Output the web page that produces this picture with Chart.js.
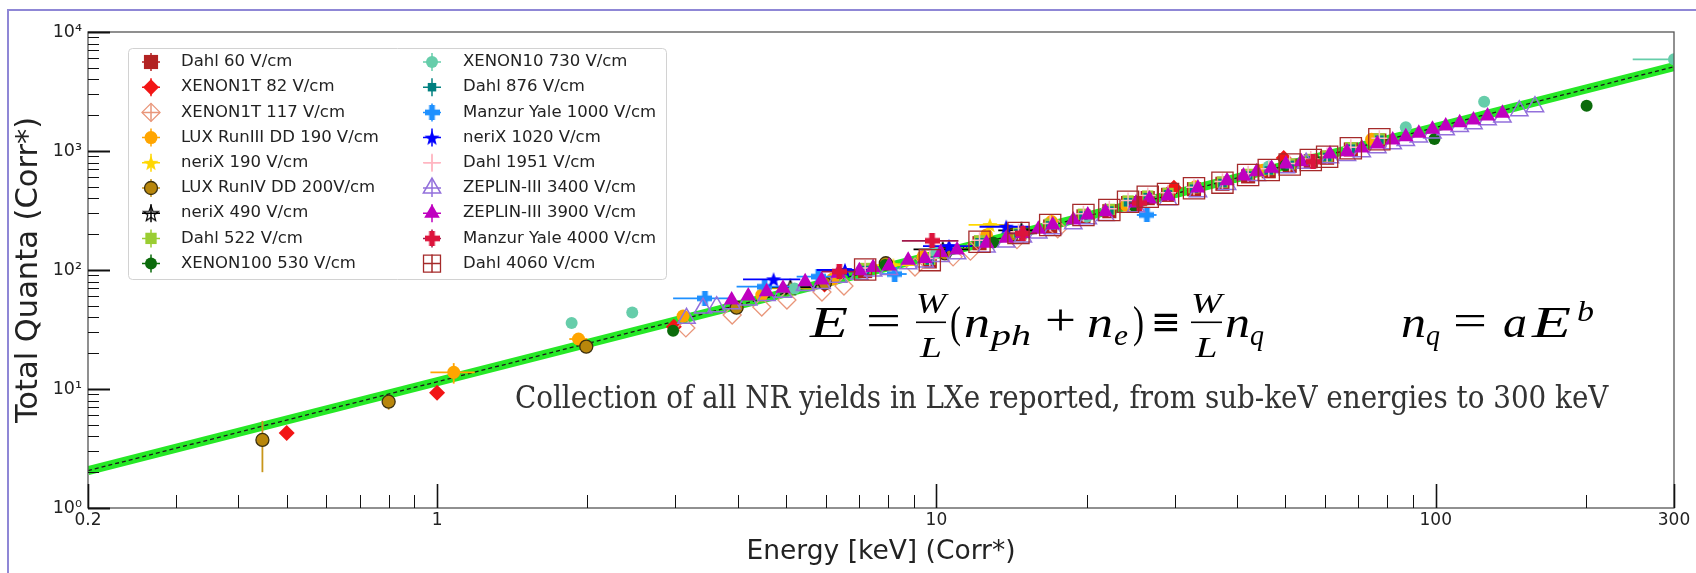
<!DOCTYPE html>
<html>
<head>
<meta charset="utf-8">
<title>NR total quanta vs energy</title>
<script src="https://cdn.jsdelivr.net/npm/chart.js@4.4.1/dist/chart.umd.min.js"></script>
<style>
  html, body { margin: 0; padding: 0; background: #fff; }
  #wrap { width: 1696px; height: 573px; }
</style>
</head>
<body>
<div id="wrap"><canvas id="nrChart" width="1696" height="573"></canvas></div>
<script>
// ---- axis ticks ----
const xTickVals = [0.2, 0.3, 0.4, 0.5, 0.6, 0.7, 0.8, 0.9, 1, 2, 3, 4, 5, 6, 7, 8, 9, 10,
  20, 30, 40, 50, 60, 70, 80, 90, 100, 200, 300];
const xLabelVals = [0.2, 1, 10, 100, 300];
const xTickLabels = ['0.2', '1', '10', '100', '300'];
const yTickVals = [1, 2, 3, 4, 5, 6, 7, 8, 9, 10, 20, 30, 40, 50, 60, 70, 80, 90,
  100, 200, 300, 400, 500, 600, 700, 800, 900, 1000, 2000, 3000, 4000, 5000, 6000,
  7000, 8000, 9000, 10000];
const yLabelVals = [1, 10, 100, 1000, 10000];
const yTickLabels = ['10\u2070', '10\u00b9', '10\u00b2', '10\u00b3', '10\u2074'];

// ---- power-law fit band (n_q = a E^b) ----
const fitE = [0.2, 300];
const fitQ = [2.06, 5110];

// ---- data, energy [keV] and total quanta ----
const dahlE = [7.2, 9.7, 12.2, 14.6, 16.9, 19.7, 22.2, 24.2, 26.5, 29.1, 32.8, 37.4, 42.1, 46.3, 51.0, 56.2, 60.6, 67.6, 77.1];
const dahl60Q = [98, 118, 168, 200, 232, 282, 312, 365, 402, 428, 478, 530, 612, 676, 752, 822, 878, 1030, 1225];
const dahl522Q = [103, 123, 176, 208, 243, 294, 323, 380, 418, 440, 492, 548, 636, 700, 778, 850, 906, 1065, 1265];
const dahl876Q = [100, 120, 171, 203, 237, 287, 316, 371, 409, 432, 482, 538, 622, 686, 764, 834, 890, 1046, 1244];
const dahl1951Q = [104, 125, 178, 210, 246, 297, 327, 384, 422, 446, 497, 555, 643, 708, 786, 858, 916, 1075, 1278];
const dahl4060Q = [101, 121, 173, 205, 239, 290, 319, 375, 413, 435, 486, 542, 629, 692, 770, 840, 896, 1054, 1254];

const xe1t82E = [0.50, 1.0, 2.98, 5.97, 29.9, 49.6];
const xe1t82Q = [4.27, 9.3, 33.4, 75.6, 492, 873];

const xe1t117E = [3.15, 3.90, 4.47, 5.02, 5.90, 6.53, 9.06, 10.8, 11.7, 14.5, 17.5];
const xe1t117Q = [32.6, 41.9, 48.9, 56, 65.3, 73.4, 106, 129, 144, 180, 222];

const lux3E = [1.08, 1.92, 3.11, 4.47, 6.2, 9.4, 12.6, 17, 24, 33, 45, 74.4];
const lux3Q = [13.8, 26.3, 41, 61.6, 84, 129, 197, 255, 350, 500, 690, 1254];
const lux3XErr = [0.11, 0.08, 0, 0, 0, 0, 0, 0, 0, 0, 0, 0];
const lux3YErr = [2.7, 1.5, 0, 0, 0, 0, 0, 0, 0, 0, 0, 0];

const nerix190E = [5.1, 8.2, 12.8];
const nerix190Q = [70, 110, 239];
const nerix190XErr = [0.6, 1.0, 1.2];

const lux4E = [0.447, 0.80, 1.99, 3.98, 5.98, 7.92, 10.4, 14.2];
const lux4Q = [3.73, 7.82, 22.7, 48.2, 77.3, 114, 138, 198];
const lux4YErr = [[2.0, 5.4], [6.7, 8.9], 0, 0, 0, 0, 0, 0];

const nerix490E = [5.1, 10.3, 14.8];
const nerix490Q = [71.6, 149, 215];
const nerix490XErr = [0.65, 1.3, 1.5];

const xe100E = [2.97, 7.9, 13, 25, 50, 99.4, 200.5];
const xe100Q = [30.9, 110, 170, 340, 760, 1261, 2403];

const xe10E = [1.86, 2.46, 5.2, 10, 20, 46.3, 87.1, 125, 300];
const xe10Q = [35.9, 43.9, 70, 140, 280, 740, 1582, 2596, 5893];
const xe10XErr = [0, 0, 0, 0, 0, 0, 0, 0, 52];

const manzur1000E = [3.44, 4.53, 5.8, 8.25, 26.4];
const manzur1000Q = [57.8, 72.4, 87.9, 92.5, 290];
const manzur1000XErr = [0.47, 0.55, 0.55, 0.47, 1.2];

const nerix1020E = [4.72, 6.56, 10.6, 13.8];
const nerix1020Q = [83.5, 100, 159, 231];
const nerix1020XErr = [0.62, 0.8, 1.2, 1.6];

const zep3400E = [3.16, 3.41, 3.63, 3.89, 4.20, 4.57, 4.93, 5.46, 5.89, 6.36, 7.01, 7.47, 8.04, 8.78,
  9.48, 10.2, 11.0, 12.6, 13.8, 14.9, 16.0, 17.1, 18.8, 20.1, 21.8, 25.1, 29.1, 33.4, 38.2, 43.8,
  50.1, 55, 61.4, 66.4, 71.1, 76.4, 82.0, 87.1, 92.5, 98.5, 104.7, 111.7, 119, 127, 136, 147, 158];
const zep3400Q = [39.3, 47.9, 49.2, 52, 56, 61, 65, 74, 77, 87, 92, 98, 101, 113,
  117, 130, 137, 156, 172, 189, 205, 222, 245, 270, 287, 340, 390, 455, 524, 623,
  724, 790, 878, 917, 985, 1065, 1150, 1227, 1309, 1415, 1508, 1609, 1695, 1830, 1929, 2182, 2359];

const zep3900E = [3.89, 4.20, 4.57, 4.93, 5.46, 5.89, 6.36, 7.01, 7.47, 8.04, 8.78, 9.48, 10.2, 11.0,
  12.6, 13.8, 14.9, 16.0, 17.1, 18.8, 20.1, 21.8, 25.1, 26.7, 29.1, 33.4, 38.2, 41.2, 43.8, 46.9,
  50.1, 53.8, 61.4, 66.4, 71.1, 76.4, 82.0, 87.1, 92.5, 98.5, 104.7, 111.7, 119, 127, 136];
const zep3900Q = [56, 60.5, 65.7, 70.2, 79.8, 82.4, 93.8, 98.7, 105, 108, 121, 125, 140, 147,
  168, 185, 203, 220, 239, 263, 290, 309, 366, 395, 419, 489, 563, 617, 670, 716,
  778, 813, 944, 986, 1059, 1145, 1237, 1319, 1408, 1522, 1622, 1730, 1822, 1968, 2074];

const manzur4000E = [6.39, 9.8, 14.9, 25.5, 56.8];
const manzur4000Q = [96.8, 176, 203, 365, 813];
const manzur4000XErr = [0.5, 1.27, 1.0, 1.2, 2.0];

// ---- custom marker images (filled star, open star, filled plus) ----
function makeStar(size, fill, stroke) {
  const c = document.createElement('canvas');
  c.width = size; c.height = size;
  const g = c.getContext('2d');
  const cx = size / 2, cy = size / 2 + 0.8, R = size / 2 - 1, r = R * 0.42;
  g.beginPath();
  for (let i = 0; i < 10; i++) {
    const a = -Math.PI / 2 + i * Math.PI / 5;
    const rr = i % 2 === 0 ? R : r;
    g.lineTo(cx + rr * Math.cos(a), cy + rr * Math.sin(a));
  }
  g.closePath();
  if (fill) { g.fillStyle = fill; g.fill(); }
  if (stroke) { g.strokeStyle = stroke; g.lineWidth = 1.2; g.stroke(); }
  return c;
}
function makePlus(size, fill) {
  const c = document.createElement('canvas');
  c.width = size; c.height = size;
  const g = c.getContext('2d');
  const t = size * 0.38, o = (size - t) / 2;
  g.fillStyle = fill;
  g.fillRect(o, 0, t, size);
  g.fillRect(0, o, size, t);
  return c;
}

const seriesDefs = [
  { label: 'Dahl 60 V/cm', e: dahlE, q: dahl60Q, style: 'rect', r: 10, fill: '#b22222' },
  { label: 'XENON1T 82 V/cm', e: xe1t82E, q: xe1t82Q, style: 'rectRot', r: 8, fill: '#f21515' },
  { label: 'XENON1T 117 V/cm', e: xe1t117E, q: xe1t117Q, style: 'rectRot', r: 9, fill: 'rgba(0,0,0,0)', edge: '#e9967a', bw: 1.3 },
  { label: 'LUX RunIII DD 190 V/cm', e: lux3E, q: lux3Q, style: 'circle', r: 6.5, fill: '#ffa500', errX: lux3XErr, errY: lux3YErr },
  { label: 'neriX 190 V/cm', e: nerix190E, q: nerix190Q, style: makeStar(18, '#ffd700'), fill: '#ffd700', errX: nerix190XErr },
  { label: 'LUX RunIV DD 200V/cm', e: lux4E, q: lux4Q, style: 'circle', r: 6.5, fill: '#b8860b', edge: '#3b3010', bw: 1.3, errY: lux4YErr, errColor: '#c8961b' },
  { label: 'neriX 490 V/cm', e: nerix490E, q: nerix490Q, style: makeStar(18, null, '#000'), fill: '#000', errX: nerix490XErr },
  { label: 'Dahl 522 V/cm', e: dahlE, q: dahl522Q, style: 'rect', r: 8, fill: '#9acd32' },
  { label: 'XENON100 530 V/cm', e: xe100E, q: xe100Q, style: 'circle', r: 6, fill: '#0b6b0b' },
  { label: 'XENON10 730 V/cm', e: xe10E, q: xe10Q, style: 'circle', r: 6, fill: '#66cdaa', errX: xe10XErr },
  { label: 'Dahl 876 V/cm', e: dahlE, q: dahl876Q, style: 'rect', r: 6, fill: '#008080' },
  { label: 'Manzur Yale 1000 V/cm', e: manzur1000E, q: manzur1000Q, style: makePlus(15, '#1e90ff'), fill: '#1e90ff', errX: manzur1000XErr },
  { label: 'neriX 1020 V/cm', e: nerix1020E, q: nerix1020Q, style: makeStar(18, '#0000ff'), fill: '#0000ff', errX: nerix1020XErr },
  { label: 'Dahl 1951 V/cm', e: dahlE, q: dahl1951Q, style: 'cross', r: 8, fill: '#ffb6c1', bw: 1.5 },
  { label: 'ZEPLIN-III 3400 V/cm', e: zep3400E, q: zep3400Q, style: 'triangle', r: 10, fill: 'rgba(0,0,0,0)', edge: '#9370db', bw: 1.5 },
  { label: 'ZEPLIN-III 3900 V/cm', e: zep3900E, q: zep3900Q, style: 'triangle', r: 9, fill: '#bf00bf' },
  { label: 'Manzur Yale 4000 V/cm', e: manzur4000E, q: manzur4000Q, style: makePlus(15, '#dc143c'), fill: '#dc143c', errX: manzur4000XErr, errColor: '#a0184a' },
  { label: 'Dahl 4060 V/cm', e: dahlE, q: dahl4060Q, style: 'rect', r: 15, fill: 'rgba(0,0,0,0)', edge: '#a52a2a', bw: 1.3 }
];

const datasets = seriesDefs.map((s, i) => ({
  label: s.label,
  data: s.e.map((e, k) => ({ x: e, y: s.q[k] })),
  pointStyle: s.style,
  pointRadius: s.r || 8,
  pointBackgroundColor: s.fill,
  pointBorderColor: s.edge || s.fill,
  pointBorderWidth: s.bw || 0,
  backgroundColor: s.fill,
  borderColor: s.edge || s.fill,
  errX: s.errX,
  errY: s.errY,
  errColor: s.errColor || s.edge || s.fill,
  order: 100 - i,
  clip: 0
}));

const fitPts = fitE.map((e, k) => ({ x: e, y: fitQ[k] }));
datasets.push({
  label: 'fit band', data: fitPts, showLine: true, pointRadius: 0,
  borderColor: '#26e826', borderWidth: 9, order: 201, clip: 0
});
datasets.push({
  label: 'fit', data: fitPts, showLine: true, pointRadius: 0,
  borderColor: '#1a1a1a', borderWidth: 1.3, borderDash: [4, 3], order: 200, clip: 0
});

function near(list, v) {
  return list.findIndex(t => Math.abs(t - v) < 1e-9 * Math.max(1, t));
}

// white page and the lavender frame
const framePlugin = {
  id: 'frame',
  beforeDraw(chart) {
    const ctx = chart.ctx;
    ctx.save();
    ctx.fillStyle = '#fff';
    ctx.fillRect(0, 0, chart.width, chart.height);
    ctx.strokeStyle = '#8f87d6';
    ctx.lineWidth = 2;
    ctx.beginPath();
    ctx.moveTo(8, chart.height);
    ctx.lineTo(8, 10);
    ctx.lineTo(chart.width, 10);
    ctx.stroke();
    ctx.restore();
  }
};

// error bars, drawn just before each dataset's markers
const errorBarPlugin = {
  id: 'errorBars',
  beforeDatasetDraw(chart, args) {
    const ds = chart.data.datasets[args.index];
    if (!ds.errX && !ds.errY) return;
    const xs = chart.scales.x, ys = chart.scales.y, ctx = chart.ctx, a = chart.chartArea;
    ctx.save();
    ctx.beginPath();
    ctx.rect(a.left, a.top, a.right - a.left, a.bottom - a.top);
    ctx.clip();
    ctx.strokeStyle = ds.errColor;
    ctx.lineWidth = 1.8;
    ds.data.forEach((p, i) => {
      const px = xs.getPixelForValue(p.x), py = ys.getPixelForValue(p.y);
      const ex = ds.errX ? ds.errX[i] : 0;
      if (ex) {
        ctx.beginPath();
        ctx.moveTo(xs.getPixelForValue(p.x - ex), py);
        ctx.lineTo(xs.getPixelForValue(p.x + ex), py);
        ctx.stroke();
      }
      const ey = ds.errY ? ds.errY[i] : 0;
      if (ey) {
        const lo = Array.isArray(ey) ? ey[0] : p.y - ey;
        const hi = Array.isArray(ey) ? ey[1] : p.y + ey;
        ctx.beginPath();
        ctx.moveTo(px, ys.getPixelForValue(lo));
        ctx.lineTo(px, ys.getPixelForValue(hi));
        ctx.stroke();
      }
    });
    ctx.restore();
  }
};

// text stretched horizontally to span x0..x1 (the reference uses a wide TeX face)
function fitText(ctx, s, x0, x1, y, font) {
  ctx.font = font;
  const w = ctx.measureText(s).width;
  ctx.save();
  ctx.translate(x0, y);
  ctx.scale((x1 - x0) / w, 1);
  ctx.fillText(s, 0, 0);
  ctx.restore();
}

function drawFormula(ctx) {
  const big = 'italic 44px "Liberation Serif"';
  const bigE = 'italic 45px "Liberation Serif"';
  const bigUp = '44px "Liberation Serif"';
  const small = 'italic 30px "Liberation Serif"';
  const base = 337, sub = 345;
  ctx.fillStyle = '#000';
  ctx.textAlign = 'left';
  ctx.textBaseline = 'alphabetic';
  const frac = (x0, x1) => {
    const cx = (x0 + x1) / 2;
    fitText(ctx, 'W', x0, x1, 313, small);
    fitText(ctx, 'L', cx - 11, cx + 11, 357, small);
    ctx.fillRect(x0, 321.5, x1 - x0, 1.6);
  };
  fitText(ctx, 'E', 810, 848, base, bigE);
  fitText(ctx, '=', 866, 901, base - 2, bigUp);
  frac(916, 946);
  fitText(ctx, '(', 950, 961, base, bigUp);
  fitText(ctx, 'n', 964, 990, base, big);
  fitText(ctx, 'ph', 991, 1031, sub, small);
  fitText(ctx, '+', 1045, 1076, base - 2, bigUp);
  fitText(ctx, 'n', 1087, 1113, base, big);
  fitText(ctx, 'e', 1114, 1128, sub, small);
  fitText(ctx, ')', 1133, 1144, base, bigUp);
  fitText(ctx, '\u2261', 1151, 1181, base - 2, '40px "DejaVu Serif"');
  frac(1191, 1222);
  fitText(ctx, 'n', 1225, 1250, base, big);
  fitText(ctx, 'q', 1250, 1264, sub, small);
  fitText(ctx, 'n', 1401, 1426, base, big);
  fitText(ctx, 'q', 1426, 1440, sub, small);
  fitText(ctx, '=', 1453, 1487, base - 2, bigUp);
  fitText(ctx, 'a', 1503, 1527, base, big);
  fitText(ctx, 'E', 1532, 1571, base, bigE);
  fitText(ctx, 'b', 1577, 1594, 321, small);
}

function drawNote(ctx) {
  const text = 'Collection of all NR yields in LXe reported, from sub-keV energies to 300 keV';
  ctx.fillStyle = '#333';
  ctx.textAlign = 'left';
  ctx.textBaseline = 'alphabetic';
  ctx.fontStretch = 'condensed';
  ctx.font = '30px "DejaVu Serif Condensed", "DejaVu Serif"';
  const w = ctx.measureText(text).width;
  const size = 30 * 1094 / w;
  ctx.font = size.toFixed(2) + 'px "DejaVu Serif Condensed", "DejaVu Serif"';
  ctx.fillText(text, 515, 408);
  ctx.fontStretch = 'normal';
}

function drawLegend(ctx) {
  const bx = 128, by = 48, bw = 538, bh = 231;
  ctx.save();
  ctx.fillStyle = 'rgba(255,255,255,0.85)';
  ctx.strokeStyle = '#d2d2d2';
  ctx.lineWidth = 1;
  ctx.beginPath();
  ctx.roundRect(bx + 0.5, by + 0.5, bw, bh, 4);
  ctx.fill();
  ctx.stroke();
  ctx.font = '16.5px "DejaVu Sans"';
  ctx.textBaseline = 'middle';
  ctx.textAlign = 'left';
  seriesDefs.forEach((s, i) => {
    const col = i < 9 ? 0 : 1;
    const row = i % 9;
    const mx = col === 0 ? 151 : 432;
    const tx = col === 0 ? 181 : 463;
    const my = 62 + row * 25.2;
    const edge = s.edge || s.fill;
    ctx.strokeStyle = s.errColor || edge;
    ctx.lineWidth = 1.5;
    ctx.beginPath();
    ctx.moveTo(mx - 9, my); ctx.lineTo(mx + 9, my);
    ctx.moveTo(mx, my - 9); ctx.lineTo(mx, my + 9);
    ctx.stroke();
    ctx.fillStyle = s.fill;
    ctx.strokeStyle = edge;
    ctx.lineWidth = s.bw || 0;
    Chart.helpers.drawPoint(ctx, {
      pointStyle: s.style, rotation: 0, radius: Math.min(s.r || 8, 12), borderWidth: s.bw || 0
    }, mx, my);
    ctx.fillStyle = '#222';
    ctx.fillText(s.label, tx, my);
  });
  ctx.restore();
}

const overlayPlugin = {
  id: 'overlay',
  afterDraw(chart) {
    const ctx = chart.ctx, a = chart.chartArea;
    const xs = chart.scales.x, ys = chart.scales.y;
    ctx.save();
    // axes box
    ctx.strokeStyle = '#555';
    ctx.lineWidth = 1.3;
    ctx.strokeRect(a.left, a.top, a.right - a.left, a.bottom - a.top);
    // inward ticks
    ctx.strokeStyle = '#111';
    xTickVals.forEach(v => {
      const major = near(xLabelVals, v) >= 0;
      const px = Math.round(xs.getPixelForValue(v)) + 0.5;
      ctx.lineWidth = major ? 1.6 : 1;
      ctx.beginPath();
      ctx.moveTo(px, a.bottom);
      ctx.lineTo(px, a.bottom - (major ? 24 : 13));
      ctx.stroke();
    });
    yTickVals.forEach(v => {
      const major = near(yLabelVals, v) >= 0;
      const py = Math.round(ys.getPixelForValue(v)) + 0.5;
      ctx.lineWidth = major ? 2 : 1;
      ctx.beginPath();
      ctx.moveTo(a.left, py);
      ctx.lineTo(a.left + (major ? 22 : 11), py);
      ctx.stroke();
    });
    drawFormula(ctx);
    drawNote(ctx);
    ctx.restore();
    drawLegend(ctx);
  }
};

const tickFont = { family: 'DejaVu Sans', size: 17 };

new Chart(document.getElementById('nrChart'), {
  type: 'scatter',
  data: { datasets: datasets },
  plugins: [framePlugin, errorBarPlugin, overlayPlugin],
  options: {
    responsive: false,
    devicePixelRatio: 1,
    animation: false,
    events: [],
    layout: { autoPadding: false, padding: { top: 32, right: 22, left: 0, bottom: 0 } },
    plugins: { legend: { display: false }, tooltip: { enabled: false } },
    scales: {
      x: {
        type: 'logarithmic',
        min: 0.2,
        max: 300,
        afterBuildTicks: s => { s.ticks = xTickVals.map(v => ({ value: v })); },
        afterFit: s => { s.height = 65; },
        grid: { display: false, drawTicks: false },
        border: { display: false },
        ticks: {
          autoSkip: false, maxRotation: 0, padding: 2, color: '#222', font: tickFont,
          callback: v => { const k = near(xLabelVals, v); return k >= 0 ? xTickLabels[k] : ''; }
        },
        title: {
          display: true, text: 'Energy [keV] (Corr*)', color: '#222',
          font: { family: 'DejaVu Sans', size: 26.5 }, padding: { top: 0, bottom: 5 }
        }
      },
      y: {
        type: 'logarithmic',
        min: 1,
        max: 10000,
        afterBuildTicks: s => { s.ticks = yTickVals.map(v => ({ value: v })); },
        afterFit: s => { s.width = 88; },
        grid: { display: false, drawTicks: false },
        border: { display: false },
        ticks: {
          autoSkip: false, padding: 6, color: '#222', font: { family: 'DejaVu Sans', size: 17.5 },
          callback: v => { const k = near(yLabelVals, v); return k >= 0 ? yTickLabels[k] : ''; }
        },
        title: {
          display: true, text: 'Total Quanta (Corr*)', color: '#222',
          font: { family: 'DejaVu Sans', size: 30.5 }, padding: { top: 11, bottom: 0 }
        }
      }
    }
  }
});
</script>
</body>
</html>
